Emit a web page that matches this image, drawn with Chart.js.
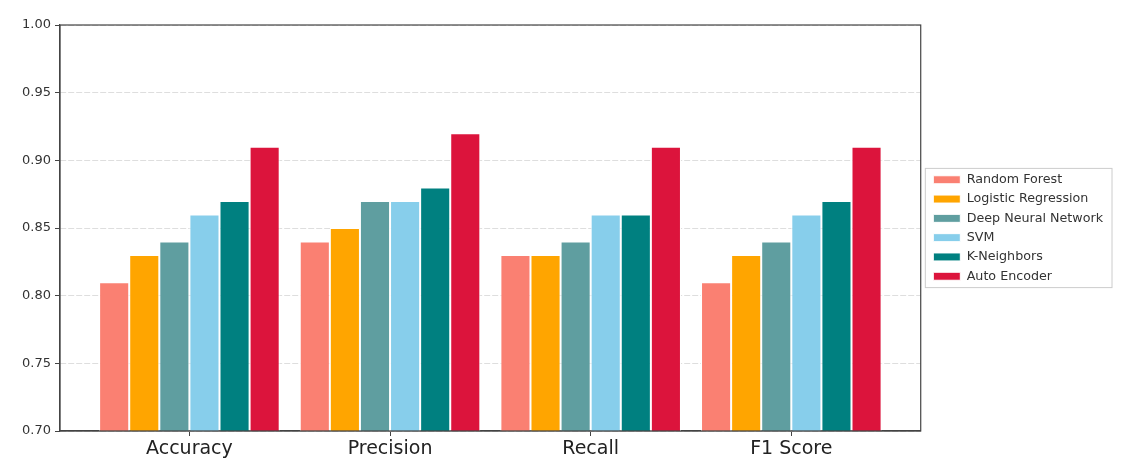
<!DOCTYPE html>
<html>
<head>
<meta charset="utf-8">
<script src="https://cdn.jsdelivr.net/npm/chart.js@4/dist/chart.umd.min.js"></script>
<style>
  html, body { margin: 0; padding: 0; background: #fff; }
  #wrap { width: 1121px; height: 468px; }
</style>
</head>
<body>
<div id="wrap"><canvas id="myChart" width="1121" height="468"></canvas></div>
<script>
var metrics = ["Accuracy", "Precision", "Recall", "F1 Score"];
var models = ["Random Forest", "Logistic Regression", "Deep Neural Network", "SVM", "K-Neighbors", "Auto Encoder"];
var colors = ["#FA8072", "#FFA500", "#5F9EA0", "#87CEEB", "#008080", "#DC143C"];

var randomForest = [0.81, 0.84, 0.83, 0.81];
var logisticRegression = [0.83, 0.85, 0.83, 0.83];
var deepNeuralNetwork = [0.84, 0.87, 0.84, 0.84];
var svm = [0.86, 0.87, 0.86, 0.86];
var kNeighbors = [0.87, 0.88, 0.86, 0.87];
var autoEncoder = [0.91, 0.92, 0.91, 0.91];

var yTicks = [0.70, 0.75, 0.80, 0.85, 0.90, 0.95, 1.00];

var series = [randomForest, logisticRegression, deepNeuralNetwork, svm, kNeighbors, autoEncoder];

// x limits like matplotlib (bars 0.15 wide, 5% margins)
var xMin = -0.645;
var xMax = 3.645;

var frame = {
    id: "frame",
    afterLayout: function (chart) {
        // center the legend on the plot area and nudge it right
        var lg = chart.legend;
        var a = chart.chartArea;
        var h = lg.bottom - lg.top;
        var c = (a.top + a.bottom) / 2;
        lg.top = c - h / 2;
        lg.bottom = c + h / 2;
        lg.left += 6;
        lg.right += 6;
    },
    afterDraw: function (chart) {
        var ctx = chart.ctx;
        var a = chart.chartArea;
        ctx.save();
        ctx.strokeStyle = "#444";
        ctx.lineWidth = 1.2;
        ctx.strokeRect(a.left, a.top, a.right - a.left, a.bottom - a.top);

        // legend box
        var boxes = chart.legend.legendHitBoxes;
        if (boxes && boxes.length) {
            var l = boxes[0].left, t = boxes[0].top, w = 0;
            boxes.forEach(function (b) { w = Math.max(w, b.width); });
            var last = boxes[boxes.length - 1];
            ctx.strokeStyle = "#ccc";
            ctx.lineWidth = 1;
            ctx.strokeRect(l - 8, t - 5, w + 17, last.top + last.height - t + 10);
        }
        ctx.restore();
    }
};

var ctx = document.getElementById("myChart");
new Chart(ctx, {
    type: "bar",
    data: {
        labels: metrics,
        datasets: series.map(function (vals, i) {
            return {
                label: models[i],
                data: vals,
                backgroundColor: colors[i],
                borderColor: "#fff",
                borderWidth: 1,
                categoryPercentage: 0.9,
                barPercentage: 1.0
            };
        })
    },
    options: {
        responsive: false,
        animation: false,
        layout: { padding: { top: 25, left: 0, right: 14, bottom: 0 } },
        plugins: {
            legend: {
                position: "right",
                labels: {
                    boxWidth: 27,
                    boxHeight: 8,
                    padding: 6.6,
                    color: "#333",
                    font: { family: "DejaVu Sans", size: 12.7 }
                }
            },
            tooltip: { enabled: false }
        },
        scales: {
            x: {
                offset: false,
                afterBuildTicks: function (scale) {
                    scale._startValue = xMin;
                    scale._valueRange = xMax - xMin;
                },
                afterFit: function (scale) { scale.height = 37; },
                grid: { drawOnChartArea: false, tickColor: "#444", tickLength: 5, offset: false },
                border: { color: "#444", width: 1.2 },
                ticks: { color: "#222", padding: 2, font: { family: "DejaVu Sans", size: 19 } }
            },
            y: {
                min: 0.7,
                max: 1.0,
                afterFit: function (scale) { scale.width = 60; },
                afterBuildTicks: function (scale) {
                    scale.ticks = yTicks.map(function (v) { return { value: v }; });
                },
                grid: { color: "#dedede", tickColor: "#444", tickLength: 5 },
                border: { color: "#444", width: 1.2, dash: [6, 2] },
                ticks: {
                    color: "#333",
                    padding: 4,
                    font: { family: "DejaVu Sans", size: 13 },
                    callback: function (v) { return Number(v).toFixed(2); }
                }
            }
        }
    },
    plugins: [frame]
});
</script>
</body>
</html>
